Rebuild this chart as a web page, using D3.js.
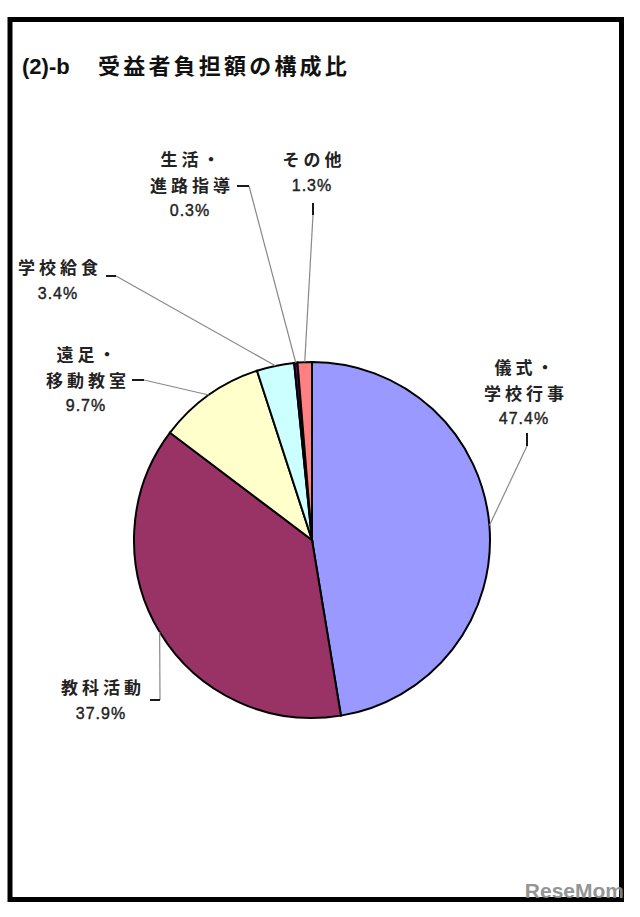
<!DOCTYPE html>
<html><head><meta charset="utf-8">
<script src="https://cdn.jsdelivr.net/npm/d3@7"></script>
<style>body{margin:0;background:#fff}svg{display:block}</style>
</head><body>
<script>
const categories = ["儀式・学校行事","教科活動","遠足・移動教室","学校給食","生活・進路指導","その他"];
const labelLines = [["儀式・","学校行事"],["教科活動"],["遠足・","移動教室"],["学校給食"],["生活・","進路指導"],["その他"]];
const values = [47.4, 37.9, 9.7, 3.4, 0.3, 1.3];
const colors = ["#9999FF","#993366","#FFFFCC","#CCFFFF","#660066","#FF8080"];
const titlePrefix = "(2)-b";
const titleText = "受益者負担額の構成比";

// label layout: text centre x, first line baseline y, tick segment [x1,y1,x2,y2]
const labelPos = [
  {x:524, y:374, tick:[527,433,527,446]},
  {x:101, y:694, tick:[150,700,160,700], vertical:true},
  {x:86,  y:361, tick:[132,380,144,380]},
  {x:58,  y:274, tick:[106,276,116,276]},
  {x:190, y:166, tick:[237,186,249,186]},
  {x:312, y:166, tick:[313,203,313,215]}
];

const W=640,H=917, cx=312, cy=540, R=178;
const svg=d3.select("body").append("svg").attr("width",W).attr("height",H);
svg.append("rect").attr("width",W).attr("height",H).attr("fill","#fff");
svg.append("rect").attr("x",10).attr("y",19.5).attr("width",611.5).attr("height",880)
  .attr("fill","none").attr("stroke","#000").attr("stroke-width",5);

svg.append("text").attr("x",22).attr("y",74).text(titlePrefix)
  .attr("font-family","'Liberation Sans', Arial").attr("font-weight","bold").attr("font-size",22)
  .attr("fill","#111");
svg.append("text").attr("x",98).attr("y",74).text(titleText)
  .attr("font-family","'Noto Sans CJK JP'").attr("font-weight","bold").attr("font-size",22)
  .attr("letter-spacing",3.2).attr("fill","#111");

const pie=d3.pie().sort(null).value(d=>d)(values);
const arc=d3.arc().innerRadius(0).outerRadius(R);
const g=svg.append("g").attr("transform",`translate(${cx},${cy})`);
g.selectAll("path").data(pie).join("path").attr("d",arc)
  .attr("fill",(d,i)=>colors[i]).attr("stroke","#000").attr("stroke-width",2);

// leader lines and labels
pie.forEach((d,i)=>{
  const a=(d.startAngle+d.endAngle)/2;
  const px=cx+R*Math.sin(a), py=cy-R*Math.cos(a);
  const p=labelPos[i], t=p.tick;
  const ex = p.vertical? t[2] : (t[0]===t[2]? t[2] : (px>t[2]? t[2]: t[0]));
  const ey = t[0]===t[2]? t[3] : t[1];
  svg.append("line").attr("x1",px).attr("y1",py).attr("x2",ex).attr("y2",ey)
    .attr("stroke","#888").attr("stroke-width",1.2);
  svg.append("line").attr("x1",t[0]).attr("y1",t[1]).attr("x2",t[2]).attr("y2",t[3])
    .attr("stroke","#000").attr("stroke-width",1.8);
  const tx=svg.append("text").attr("text-anchor","middle").attr("fill","#222");
  labelLines[i].forEach((s,j)=>{
    tx.append("tspan").attr("x",p.x+2).attr("y",p.y+j*25.5).text(s)
      .attr("font-family","'Noto Sans CJK JP'").attr("font-size",17).attr("font-weight","bold")
      .attr("letter-spacing",4);
  });
  tx.append("tspan").attr("x",p.x).attr("y",p.y+labelLines[i].length*25).text(d3.format(".1f")(values[i])+"%")
    .attr("font-family","'Liberation Sans', Arial").attr("font-size",16)
    .attr("letter-spacing",1).attr("fill","#222").attr("stroke","#222").attr("stroke-width",0.4);
});

svg.append("text").attr("x",624).attr("y",898).attr("text-anchor","end").text("ReseMom")
  .attr("font-family","'Liberation Sans', Arial").attr("font-weight","bold").attr("font-size",21)
  .attr("fill","#8a8a8a").attr("opacity",0.9);
</script>
</body></html>
